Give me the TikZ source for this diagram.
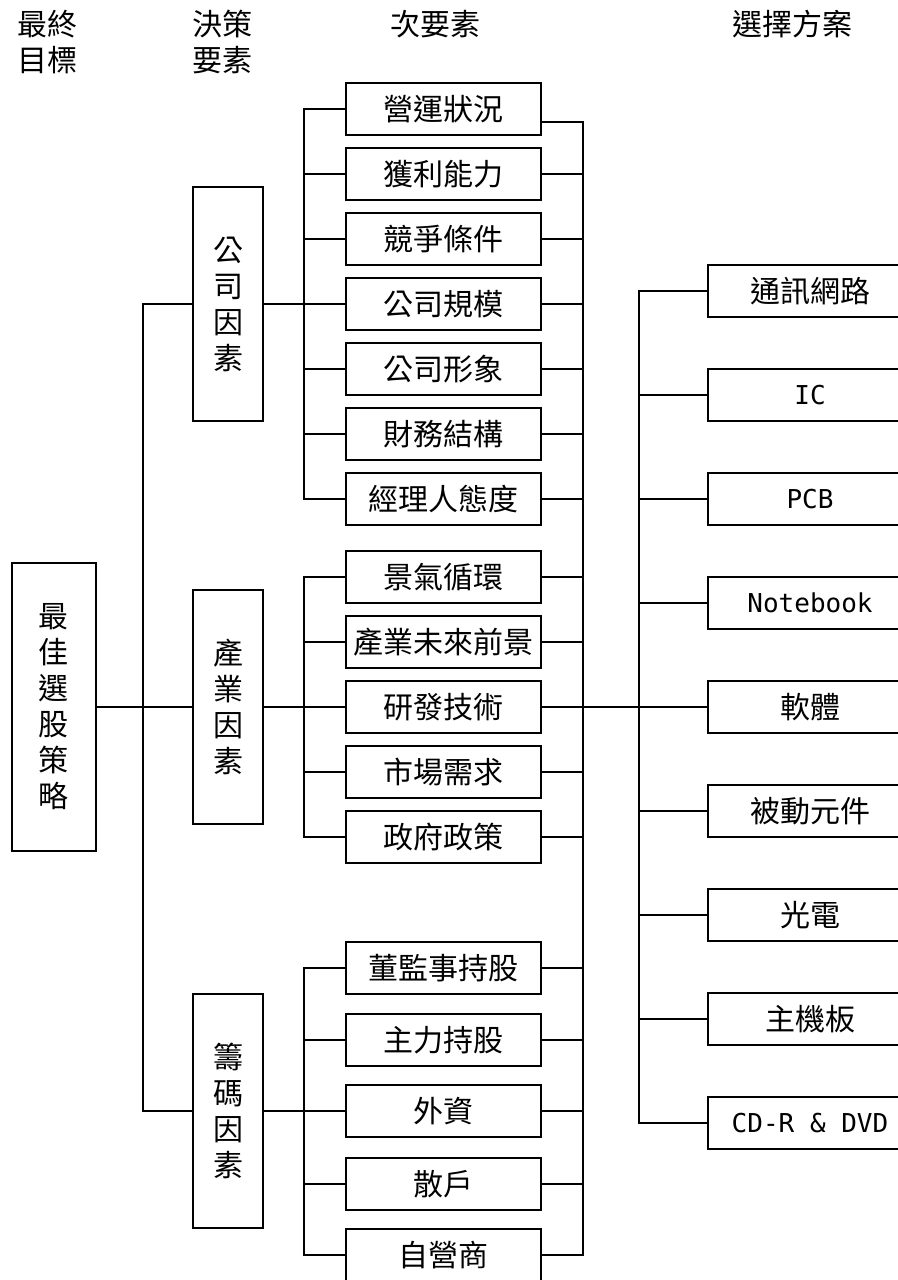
\documentclass[tikz,border=0pt]{standalone}
\usepackage{fontspec}
\newfontfamily\cjk{Noto Sans CJK TC}
\newfontfamily\latmono{DejaVu Sans Mono}
\begin{document}
\begin{tikzpicture}[x=0.5pt,y=-0.5pt,line width=0.6pt,
  cj/.style={font=\cjk\fontsize{15}{18}\selectfont},
  box/.style={draw, inner sep=0pt, align=center, cj},
  sub/.style={box, minimum width=97.5pt, minimum height=26pt},
  opt/.style={box, minimum width=102pt, minimum height=26pt},
  lat/.style={font=\latmono\fontsize{13}{16}\selectfont},
  factor/.style={box, minimum width=35pt, minimum height=117pt},
  head/.style={align=center, cj, inner sep=0pt}]
\useasboundingbox (0,0) rectangle (898,1280);
\clip (0,0) rectangle (898,1280);
% headings
\node[head] (h1) at (48,42) {最終\\目標};
\node[head] (h2) at (222,42) {決策\\要素};
\node[head] (h3) at (435,24) {次要素};
\node[head] (h4) at (792,24) {選擇方案};
% root and factors
\node[box, minimum width=42pt, minimum height=144pt] (root) at (54,707) {最\\佳\\選\\股\\策\\略};
\node[factor] (f1) at (228,304) {公\\司\\因\\素};
\node[factor] (f2) at (228,707) {產\\業\\因\\素};
\node[factor] (f3) at (228,1111) {籌\\碼\\因\\素};
% sub elements
\node[sub] (s1) at (443.5,109) {營運狀況};
\node[sub] (s2) at (443.5,174) {獲利能力};
\node[sub] (s3) at (443.5,239) {競爭條件};
\node[sub] (s4) at (443.5,304) {公司規模};
\node[sub] (s5) at (443.5,369) {公司形象};
\node[sub] (s6) at (443.5,434) {財務結構};
\node[sub] (s7) at (443.5,499) {經理人態度};
\node[sub] (s8) at (443.5,577) {景氣循環};
\node[sub] (s9) at (443.5,642) {產業未來前景};
\node[sub] (s10) at (443.5,707) {研發技術};
\node[sub] (s11) at (443.5,772) {市場需求};
\node[sub] (s12) at (443.5,837) {政府政策};
\node[sub] (s13) at (443.5,968) {董監事持股};
\node[sub] (s14) at (443.5,1040) {主力持股};
\node[sub] (s15) at (443.5,1111) {外資};
\node[sub] (s16) at (443.5,1184) {散戶};
\node[sub] (s17) at (443.5,1255) {自營商};
% options
\node[opt] (o1) at (810,291) {通訊網路};
\node[opt, lat] (o2) at (810,395) {IC};
\node[opt, lat] (o3) at (810,499) {PCB};
\node[opt, lat] (o4) at (810,603) {Notebook};
\node[opt] (o5) at (810,707) {軟體};
\node[opt] (o6) at (810,811) {被動元件};
\node[opt] (o7) at (810,915) {光電};
\node[opt] (o8) at (810,1019) {主機板};
\node[opt, lat] (o9) at (810,1123) {CD-R \& DVD};
% trunk coordinates
\coordinate (T1) at (143,0);
\coordinate (T2) at (304,0);
\coordinate (T3) at (583,0);
\coordinate (T4) at (639,0);
% root to factors
\draw (root.east) -- (f2.west);
\draw (f1.west) -- (f1.west -| T1) |- (f3.west);
% factors to sub elements
\draw (f1.east) -- (s4.west);
\draw (f2.east) -- (s10.west);
\draw (f3.east) -- (s15.west);
\draw (s1.west) -- (s1.west -| T2) |- (s7.west);
\foreach \n in {2,3,5,6} \draw (s\n.west -| T2) -- (s\n.west);
\draw (s8.west) -- (s8.west -| T2) |- (s12.west);
\foreach \n in {9,11} \draw (s\n.west -| T2) -- (s\n.west);
\draw (s13.west) -- (s13.west -| T2) |- (s17.west);
\foreach \n in {14,16} \draw (s\n.west -| T2) -- (s\n.west);
% sub elements to options
\draw ([yshift=-6.5pt]s1.east) -- ([yshift=-6.5pt]s1.east -| T3) |- (s17.east);
\foreach \n in {2,3,4,5,6,7,8,9,11,12,13,14,15,16} \draw (s\n.east) -- (s\n.east -| T3);
\draw (s10.east) -- (o5.west);
\draw (o1.west) -- (o1.west -| T4) |- (o9.west);
\foreach \n in {2,3,4,6,7,8} \draw (o\n.west -| T4) -- (o\n.west);
\end{tikzpicture}
\end{document}
